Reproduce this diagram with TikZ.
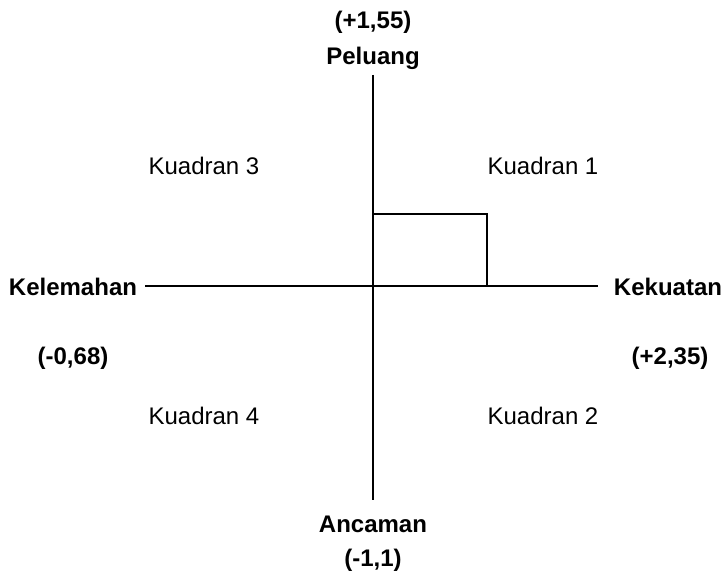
\documentclass[tikz,border=0pt]{standalone}
\usepackage{fontspec}
\setmainfont{Liberation Sans}
\begin{document}
\begin{tikzpicture}[x=0.75pt,y=-0.75pt,
  lbl/.style={font=\fontsize{18}{21}\selectfont, inner sep=0pt},
  blbl/.style={font=\fontsize{18}{21}\selectfont\bfseries, inner sep=0pt},
  axis/.style={draw=black, line width=0.8pt}]
\useasboundingbox (0,0) rectangle (726,574);
\coordinate (top) at (373,75);
\coordinate (bot) at (373,500);
\coordinate (left) at (145,286);
\coordinate (right) at (598,286);
\coordinate (r1) at (373,214);
\coordinate (r2) at (487,214);
\coordinate (r3) at (487,286);
\draw[axis] (top) -- (bot);
\draw[axis] (left) -- (right);
\draw[axis] (r1) -- (r2) -- (r3);
\node[blbl] (v1) at (373,22) {(+1,55)};
\node[blbl] (pel) at (373,58) {Peluang};
\node[lbl] (k3) at (204,166) {Kuadran 3};
\node[lbl] (k1) at (543,166) {Kuadran 1};
\node[blbl] (kel) at (73,287) {Kelemahan};
\node[blbl] (kek) at (668,287) {Kekuatan};
\node[blbl] (v2) at (73,358) {(-0,68)};
\node[blbl] (v3) at (670,358) {(+2,35)};
\node[lbl] (k4) at (204,416) {Kuadran 4};
\node[lbl] (k2) at (543,416) {Kuadran 2};
\node[blbl] (anc) at (373,524) {Ancaman};
\node[blbl] (v4) at (373,560) {(-1,1)};
\end{tikzpicture}
\end{document}
